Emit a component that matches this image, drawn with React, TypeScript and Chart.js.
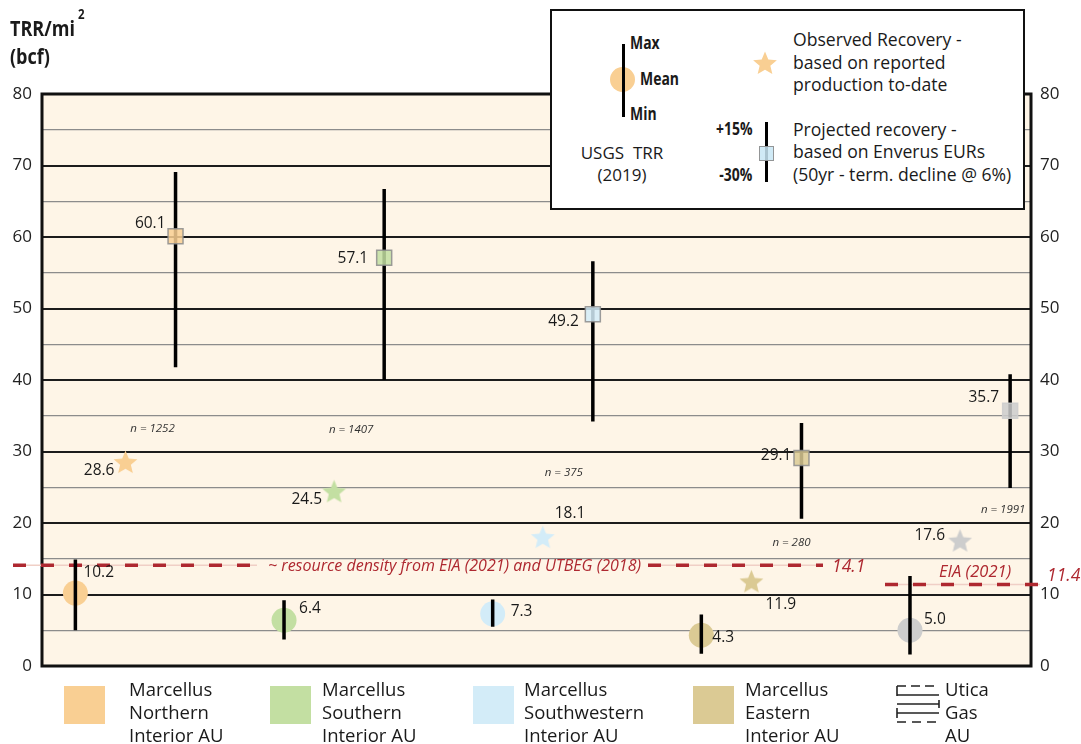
import React, { useEffect, useRef } from 'react';
import { Chart, registerables } from 'chart.js';

Chart.register(...registerables);

// ---------------- data ----------------
const unitNames = [
  'Marcellus Northern Interior AU',
  'Marcellus Southern Interior AU',
  'Marcellus Southwestern Interior AU',
  'Marcellus Eastern Interior AU',
  'Utica Gas AU',
];
const legendLines = [
  ['Marcellus', 'Northern', 'Interior AU'],
  ['Marcellus', 'Southern', 'Interior AU'],
  ['Marcellus', 'Southwestern', 'Interior AU'],
  ['Marcellus', 'Eastern', 'Interior AU'],
  ['Utica', 'Gas', 'AU'],
];
const unitColors = ['#F9CF93', '#C3DFA2', '#D3ECF8', '#DBCA94', '#CDCDCD'];

const usgsMean = [10.2, 6.4, 7.3, 4.3, 5.0];
const usgsMin = [5.0, 3.7, 5.5, 1.7, 1.6];
const usgsMax = [14.9, 9.2, 9.3, 7.2, 12.6];

const observedRecovery = [28.6, 24.5, 18.1, 11.9, 17.6];

const projectedRecovery = [60.1, 57.1, 49.2, 29.1, 35.7];
const projectedHigh = [69.1, 66.7, 56.6, 34.0, 40.8];
const projectedLow = [41.8, 40.0, 34.2, 20.6, 24.9];

const sampleLabels = ['n = 1252', 'n = 1407', 'n = 375', 'n = 280', 'n = 1991'];

const refValues = [14.1, 11.4];
const refLabels = ['~ resource density from EIA (2021) and UTBEG (2018)', 'EIA (2021)'];

const yMin = 0;
const yMax = 80;
const yStep = 5;

// ---------------- styles ----------------
const FONT = "'Open Sans', sans-serif";
const CREAM = '#FEF5E7';
const RED = '#AE2830';
const CIRCLE_OFF = -0.24;
const SQUARE_OFF = 0.24;
const X_MIN = -0.4;
const X_MAX = 4.34;

const meanLabelOffsets: [number, number, CanvasTextAlign][] = [
  [8, -20, 'left'], [15, -12, 'left'], [18, -2, 'left'], [11, 2, 'left'], [14, -11, 'left'],
];
const starLabelOffsets: [number, number, CanvasTextAlign][] = [
  [-11, 9, 'right'], [-12, 9, 'right'], [12, -23, 'left'], [14, 24, 'left'], [-15, -5, 'right'],
];
const squareLabelOffsets: [number, number, CanvasTextAlign][] = [
  [-10, -13, 'right'], [-16, 1, 'right'], [-14, 7, 'right'], [-10, -2, 'right'], [-11, -13, 'right'],
];
const nLabelOffsets: [number, number][] = [[-23, 62], [-33, 50], [-29, 51], [-10, 24], [-7, 22]];

const refStyles = [
  { x0: 13, x1: 823, textX: 268, textDy: 1, gapL: 11, gapR: 7, inline: true, font: `italic 16px ${FONT}`, valueX: 832, valueDy: 2, valueFont: `italic 17.5px ${FONT}` },
  { x0: 885, x1: 1040, textX: 939, textDy: -12, gapL: 0, gapR: 0, inline: false, font: `italic 16.5px ${FONT}`, valueX: 1047, valueDy: -8, valueFont: `italic 17.5px ${FONT}` },
];

function makeStarCanvas(color: string, R: number): HTMLCanvasElement {
  const c = document.createElement('canvas');
  const s = Math.ceil(R * 2 + 2);
  c.width = s;
  c.height = s;
  const ctx = c.getContext('2d')!;
  ctx.fillStyle = color;
  ctx.beginPath();
  for (let k = 0; k < 10; k++) {
    const r = k % 2 === 0 ? R : R * 0.45;
    const a = -Math.PI / 2 + (k * Math.PI) / 5;
    const x = s / 2 + r * Math.cos(a);
    const y = s / 2 + 1.5 + r * Math.sin(a);
    if (k === 0) ctx.moveTo(x, y);
    else ctx.lineTo(x, y);
  }
  ctx.closePath();
  ctx.fill();
  return c;
}

function starPts(cx: number, cy: number, R: number): string {
  const pts: string[] = [];
  for (let k = 0; k < 10; k++) {
    const r = k % 2 === 0 ? R : R * 0.45;
    const a = -Math.PI / 2 + (k * Math.PI) / 5;
    pts.push(`${(cx + r * Math.cos(a)).toFixed(2)},${(cy + r * Math.sin(a)).toFixed(2)}`);
  }
  return pts.join(' ');
}

function rangeData(lo: number[], hi: number[], off: number) {
  const out: { x: number; y: number | null }[] = [];
  lo.forEach((v, i) => {
    out.push({ x: i + off, y: v });
    out.push({ x: i + off, y: hi[i] });
    out.push({ x: i + off, y: null });
  });
  return out;
}

function withAlpha(hex: string, a: number) {
  const r = parseInt(hex.slice(1, 3), 16);
  const g = parseInt(hex.slice(3, 5), 16);
  const b = parseInt(hex.slice(5, 7), 16);
  return `rgba(${r},${g},${b},${a})`;
}

const framePlugin = {
  id: 'frameAndRefs',
  beforeDraw(chart: any) {
    const { ctx, chartArea: a } = chart;
    ctx.save();
    ctx.fillStyle = CREAM;
    ctx.fillRect(a.left, a.top, a.right - a.left, a.bottom - a.top);
    ctx.restore();
  },
  beforeDatasetsDraw(chart: any) {
    const { ctx, chartArea: a, scales } = chart;
    const y = scales.y;
    ctx.save();
    ctx.strokeStyle = '#111';
    ctx.lineWidth = 3;
    ctx.strokeRect(a.left, a.top, a.right - a.left, a.bottom - a.top);

    refValues.forEach((v, k) => {
      const st = refStyles[k];
      const py = y.getPixelForValue(v);
      ctx.font = st.font;
      const tw = ctx.measureText(refLabels[k]).width;
      const segs = st.inline
        ? [[st.x0, st.textX - st.gapL], [st.textX + tw + st.gapR, st.x1]]
        : [[st.x0, st.x1]];
      segs.forEach(([s, e]) => {
        ctx.setLineDash([]);
        ctx.strokeStyle = '#F0CFC6';
        ctx.lineWidth = 1.5;
        ctx.beginPath();
        ctx.moveTo(s, py);
        ctx.lineTo(e, py);
        ctx.stroke();
        ctx.setLineDash([13, 15]);
        ctx.strokeStyle = RED;
        ctx.lineWidth = 3.5;
        ctx.beginPath();
        ctx.moveTo(s, py);
        ctx.lineTo(e, py);
        ctx.stroke();
      });
      ctx.setLineDash([]);
      ctx.fillStyle = RED;
      ctx.textBaseline = 'middle';
      ctx.textAlign = 'left';
      ctx.fillText(refLabels[k], st.textX, py + st.textDy);
      ctx.font = st.valueFont;
      ctx.fillText(v.toFixed(1), st.valueX, py + st.valueDy);
    });
    ctx.restore();
  },
};

const labelPlugin = {
  id: 'valueLabels',
  afterDatasetsDraw(chart: any) {
    const ctx = chart.ctx;
    ctx.save();
    ctx.font = `15.5px ${FONT}`;
    ctx.fillStyle = '#1a1a1a';
    ctx.textBaseline = 'middle';
    const draw = (dsIndex: number, values: number[], offs: [number, number, CanvasTextAlign][]) => {
      const meta = chart.getDatasetMeta(dsIndex);
      meta.data.forEach((el: any, i: number) => {
        const [dx, dy, align] = offs[i];
        ctx.textAlign = align;
        ctx.fillText(values[i].toFixed(1), el.x + dx, el.y + dy);
      });
    };
    draw(0, usgsMean, meanLabelOffsets);
    draw(4, observedRecovery, starLabelOffsets);
    draw(3, projectedRecovery, squareLabelOffsets);

    const sq = chart.getDatasetMeta(3);
    const ys = chart.scales.y;
    ctx.font = `italic 11.5px ${FONT}`;
    ctx.fillStyle = '#333';
    ctx.textAlign = 'center';
    sampleLabels.forEach((t, i) => {
      const el = sq.data[i];
      ctx.fillText(t, el.x + nLabelOffsets[i][0], ys.getPixelForValue(projectedLow[i]) + nLabelOffsets[i][1]);
    });
    ctx.restore();
  },
};

function Cond({ children, style }: { children: React.ReactNode; style: React.CSSProperties }) {
  return (
    <div style={{ position: 'absolute', fontWeight: 700, whiteSpace: 'nowrap', ...style }}>
      <span style={{ display: 'inline-block', transform: 'scaleX(0.82)', transformOrigin: style.right !== undefined ? 'right center' : 'left center' }}>
        {children}
      </span>
    </div>
  );
}

export default function App() {
  const canvasRef = useRef<HTMLCanvasElement | null>(null);

  useEffect(() => {
    if (!canvasRef.current) return;
    const stars = unitColors.map((c) => makeStarCanvas(c, 12.5));
    const tickCb = (v: any) => (Number(v) % 10 === 0 ? String(v) : '');
    const chart = new Chart(canvasRef.current, {
      type: 'scatter',
      data: {
        datasets: [
          {
            label: 'USGS TRR mean',
            data: usgsMean.map((v, i) => ({ x: i + CIRCLE_OFF, y: v })),
            pointStyle: 'circle',
            pointRadius: 12.5,
            backgroundColor: unitColors,
            borderWidth: 0,
            order: 4,
          } as any,
          {
            label: 'USGS TRR range',
            type: 'line',
            data: rangeData(usgsMin, usgsMax, CIRCLE_OFF),
            borderColor: '#000',
            borderWidth: 3.5,
            borderCapStyle: 'butt',
            pointRadius: 0,
            spanGaps: false,
            fill: false,
            order: 3,
          } as any,
          {
            label: 'Projected range',
            type: 'line',
            data: rangeData(projectedLow, projectedHigh, SQUARE_OFF),
            borderColor: '#000',
            borderWidth: 3.5,
            borderCapStyle: 'butt',
            pointRadius: 0,
            spanGaps: false,
            fill: false,
            order: 2,
          } as any,
          {
            label: 'Projected recovery',
            data: projectedRecovery.map((v, i) => ({ x: i + SQUARE_OFF, y: v })),
            pointStyle: 'rect',
            pointRadius: 10.6,
            backgroundColor: unitColors.map((c) => withAlpha(c, 0.85)),
            borderColor: unitColors.map((c, i) => (i === 4 ? withAlpha(c, 0.9) : 'rgba(140,140,140,0.85)')),
            borderWidth: 1.5,
            order: 1,
          } as any,
          {
            label: 'Observed recovery',
            data: observedRecovery.map((v, i) => ({ x: i, y: v })),
            pointStyle: stars,
            pointRadius: 12.5,
            order: 0,
          } as any,
        ],
      },
      options: {
        responsive: false,
        animation: false,
        devicePixelRatio: 1,
        events: [],
        layout: { padding: { top: 94, bottom: 78, left: 0, right: 0 } },
        plugins: {
          legend: { display: false },
          tooltip: { enabled: false },
        },
        scales: {
          x: { type: 'linear', min: X_MIN, max: X_MAX, display: false },
          y: {
            type: 'linear',
            position: 'left',
            min: yMin,
            max: yMax,
            afterFit: (s: any) => { s.width = 42; },
            border: { display: false },
            grid: {
              drawTicks: false,
              color: (c: any) => (c.tick && c.tick.value % 10 === 0 ? '#1c1c1c' : '#8c8c8c'),
              lineWidth: (c: any) => (c.tick && c.tick.value % 10 === 0 ? 2 : 1.3),
            },
            ticks: { stepSize: yStep, autoSkip: false, callback: tickCb, padding: 10, color: '#222', font: { family: FONT, size: 17 } },
          },
          y2: {
            type: 'linear',
            position: 'right',
            min: yMin,
            max: yMax,
            afterFit: (s: any) => { s.width = 50; },
            border: { display: false },
            grid: { display: false, drawTicks: false },
            ticks: { stepSize: yStep, autoSkip: false, callback: tickCb, padding: 9, color: '#222', font: { family: FONT, size: 17 } },
          },
        },
      } as any,
      plugins: [framePlugin, labelPlugin],
    });
    return () => chart.destroy();
  }, []);

  const squareLefts = [64, 270, 473, 693];
  const textLefts = [129, 322, 524, 745, 945];

  return (
    <div style={{ position: 'fixed', left: 0, top: 0, width: 1081, height: 744, background: '#fff', overflow: 'hidden', fontFamily: FONT, color: '#1a1a1a' }}>
      <canvas ref={canvasRef} width={1081} height={744} style={{ position: 'absolute', left: 0, top: 0, width: 1081, height: 744 }} />

      {/* axis title */}
      <Cond style={{ left: 10, top: 12, fontSize: 22, lineHeight: '30px' }}>TRR/mi</Cond>
      <Cond style={{ left: 78, top: 5, fontSize: 14, lineHeight: '18px' }}>2</Cond>
      <Cond style={{ left: 10, top: 40, fontSize: 22, lineHeight: '30px' }}>(bcf)</Cond>

      {/* key box */}
      <div style={{ position: 'absolute', left: 550, top: 9, width: 475, height: 201, boxSizing: 'border-box', border: '2px solid #111', background: '#fff' }} />
      <div style={{ position: 'absolute', left: 609.5, top: 66.5, width: 25, height: 25, borderRadius: '50%', background: unitColors[0] }} />
      <div style={{ position: 'absolute', left: 621.5, top: 44, width: 3, height: 73, background: '#000' }} />
      <Cond style={{ left: 630, top: 33, fontSize: 17, lineHeight: '20px' }}>Max</Cond>
      <Cond style={{ left: 640, top: 69, fontSize: 17, lineHeight: '20px' }}>Mean</Cond>
      <Cond style={{ left: 630, top: 104, fontSize: 17, lineHeight: '20px' }}>Min</Cond>
      <div style={{ position: 'absolute', left: 552, top: 142, width: 140, textAlign: 'center', fontSize: 17, lineHeight: '22px', whiteSpace: 'pre' }}>
        {'USGS  TRR\n(2019)'}
      </div>
      <svg style={{ position: 'absolute', left: 745, top: 43 }} width={40} height={40}>
        <polygon points={starPts(20, 21, 12.5)} fill={unitColors[0]} />
      </svg>
      <div style={{ position: 'absolute', left: 793, top: 28, fontSize: 17.6, lineHeight: '22.5px', whiteSpace: 'nowrap' }}>
        <div>Observed Recovery -</div>
        <div>based on reported</div>
        <div>production to-date</div>
      </div>
      <Cond style={{ right: 1081 - 752, top: 119, fontSize: 17, lineHeight: '20px' }}>+15%</Cond>
      <Cond style={{ right: 1081 - 752, top: 165, fontSize: 17, lineHeight: '20px' }}>-30%</Cond>
      <div style={{ position: 'absolute', left: 764.5, top: 122, width: 3, height: 60, background: '#000' }} />
      <div style={{ position: 'absolute', left: 758.5, top: 145.5, width: 15, height: 15, boxSizing: 'border-box', border: '1.5px solid rgba(140,140,140,0.9)', background: withAlpha('#C8E6F4', 0.85) }} />
      <div style={{ position: 'absolute', left: 793, top: 117.5, fontSize: 17.6, lineHeight: '22.5px', whiteSpace: 'nowrap' }}>
        <div>Projected recovery -</div>
        <div>based on Enverus EURs</div>
        <div>(50yr - term. decline @ 6%)</div>
      </div>

      {/* unit legend */}
      {squareLefts.map((l, i) => (
        <div key={'sq' + i} style={{ position: 'absolute', left: l, top: 686, width: 41, height: 38, background: unitColors[i] }} />
      ))}
      <svg style={{ position: 'absolute', left: 890, top: 680 }} width={54} height={50}>
        <g stroke="#222" strokeWidth={1.6} fill="none">
          <line x1={7} y1={6} x2={49} y2={6} strokeDasharray="9 5" />
          <line x1={7} y1={6} x2={7} y2={16} />
          <line x1={7} y1={15} x2={49} y2={15} />
          <line x1={7} y1={24} x2={49} y2={24} />
          <line x1={49} y1={20} x2={49} y2={28} />
          <line x1={7} y1={33} x2={49} y2={33} />
          <line x1={7} y1={28} x2={7} y2={38} />
          <line x1={7} y1={42} x2={49} y2={42} strokeDasharray="9 6" />
        </g>
      </svg>
      {legendLines.map((lines, i) => (
        <div key={'lt' + i} title={unitNames[i]} style={{ position: 'absolute', left: textLefts[i], top: 677, fontSize: 18.5, lineHeight: '23px', whiteSpace: 'nowrap' }}>
          {lines.map((t, k) => (
            <div key={k}>{t}</div>
          ))}
        </div>
      ))}
    </div>
  );
}
